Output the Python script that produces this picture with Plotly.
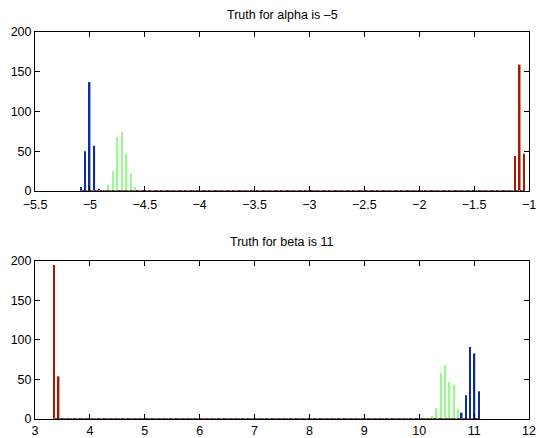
import plotly.graph_objects as go

# ---- data (histogram bars) ----
alpha_blue_x = [-5.082, -5.043, -5.003, -4.960, -4.917]
alpha_blue_y = [5, 50, 137, 57, 3]
alpha_green_x = [-4.832, -4.789, -4.750, -4.707, -4.667, -4.625, -4.585]
alpha_green_y = [8, 25, 68, 74, 47, 22, 5]
alpha_red_x = [-1.127, -1.085, -1.045]
alpha_red_y = [44, 159, 47]

beta_blue_x = [10.774, 10.854, 10.927, 11.006, 11.091]
beta_blue_y = [8, 30, 91, 83, 35]
beta_green_x = [10.244, 10.317, 10.396, 10.476, 10.549, 10.634, 10.713]
beta_green_y = [4, 14, 58, 68, 47, 43, 13]
beta_red_x = [3.345, 3.430]
beta_red_y = [195, 54]

alpha_ticks = [-5.5, -5, -4.5, -4, -3.5, -3, -2.5, -2, -1.5, -1]
beta_ticks = [3, 4, 5, 6, 7, 8, 9, 10, 11, 12]
y_ticks = [0, 50, 100, 150, 200]

titles = ["Truth for alpha is \u20135", "Truth for beta is 11"]

BLUE = "#0b2aa6"
GREEN = "#96fb8a"
RED = "#a81800"
FONT = "Liberation Sans, Arial, Helvetica, sans-serif"
FS = 12.5

fig = go.Figure()

def add_panel(xa, ya, series, bw):
    xs_all = [x for s in series for x in s[0]]
    lo, hi = min(xs_all), max(xs_all)
    # baseline of zero-height bars (multi-coloured dotted look)
    fig.add_trace(go.Scatter(x=[lo, hi], y=[0, 0], mode="lines",
                             line=dict(color=RED, width=1.6),
                             xaxis=xa, yaxis=ya, showlegend=False, hoverinfo="skip"))
    fig.add_trace(go.Scatter(x=[lo, hi], y=[0, 0], mode="lines",
                             line=dict(color=BLUE, width=1.6, dash="3px,3px"),
                             xaxis=xa, yaxis=ya, showlegend=False, hoverinfo="skip"))
    fig.add_trace(go.Scatter(x=[lo, hi], y=[0, 0], mode="lines",
                             line=dict(color=GREEN, width=1.6, dash="1px,5px"),
                             xaxis=xa, yaxis=ya, showlegend=False, hoverinfo="skip"))
    for xs, ys, col in series:
        fig.add_trace(go.Bar(x=xs, y=ys, width=[bw] * len(xs),
                             marker=dict(color=col, line=dict(width=0)),
                             xaxis=xa, yaxis=ya, showlegend=False))

add_panel("x", "y", [(alpha_blue_x, alpha_blue_y, BLUE),
                     (alpha_green_x, alpha_green_y, GREEN),
                     (alpha_red_x, alpha_red_y, RED)], 0.0150)
add_panel("x2", "y2", [(beta_blue_x, beta_blue_y, BLUE),
                       (beta_green_x, beta_green_y, GREEN),
                       (beta_red_x, beta_red_y, RED)], 0.0290)

axis_common = dict(showline=True, linecolor="black", linewidth=1, mirror="ticks",
                   ticks="inside", ticklen=5, tickcolor="black", tickwidth=1,
                   showgrid=False, zeroline=False, automargin=False,
                   tickfont=dict(family=FONT, size=FS, color="black"))

# margins: plot area x 35..529, top panel y 32..191, bottom panel y 261..419
fig.update_layout(
    width=541, height=438,
    margin=dict(l=35, r=12, t=32, b=19, autoexpand=False),
    paper_bgcolor="white", plot_bgcolor="white",
    barmode="overlay",
    font=dict(family=FONT, size=FS, color="black"),
    xaxis=dict(domain=[0, 1], range=[-5.5, -1], tickvals=alpha_ticks,
               ticktext=[("\u2212" + f"{abs(v):g}") if v < 0 else f"{v:g}" for v in alpha_ticks],
               ticklabelstandoff=2, anchor="y", **axis_common),
    yaxis=dict(domain=[0.5891, 1], range=[0, 200], tickvals=y_ticks, anchor="x", **axis_common),
    xaxis2=dict(domain=[0, 1], range=[3, 12], tickvals=beta_ticks, anchor="y2", **axis_common),
    yaxis2=dict(domain=[0, 0.4083], range=[0, 200], tickvals=y_ticks, anchor="x2", **axis_common),
    annotations=[
        dict(text=titles[0], x=0.5, y=1.0439, xref="paper", yref="paper",
             xanchor="center", yanchor="middle", showarrow=False,
             font=dict(family=FONT, size=FS, color="black")),
        dict(text=titles[1], x=0.5, y=0.4574, xref="paper", yref="paper",
             xanchor="center", yanchor="middle", showarrow=False,
             font=dict(family=FONT, size=FS, color="black")),
    ],
)

fig.write_html("out.html", config={"displayModeBar": False},
               post_script="document.body.style.margin='0';document.body.style.padding='0';")
